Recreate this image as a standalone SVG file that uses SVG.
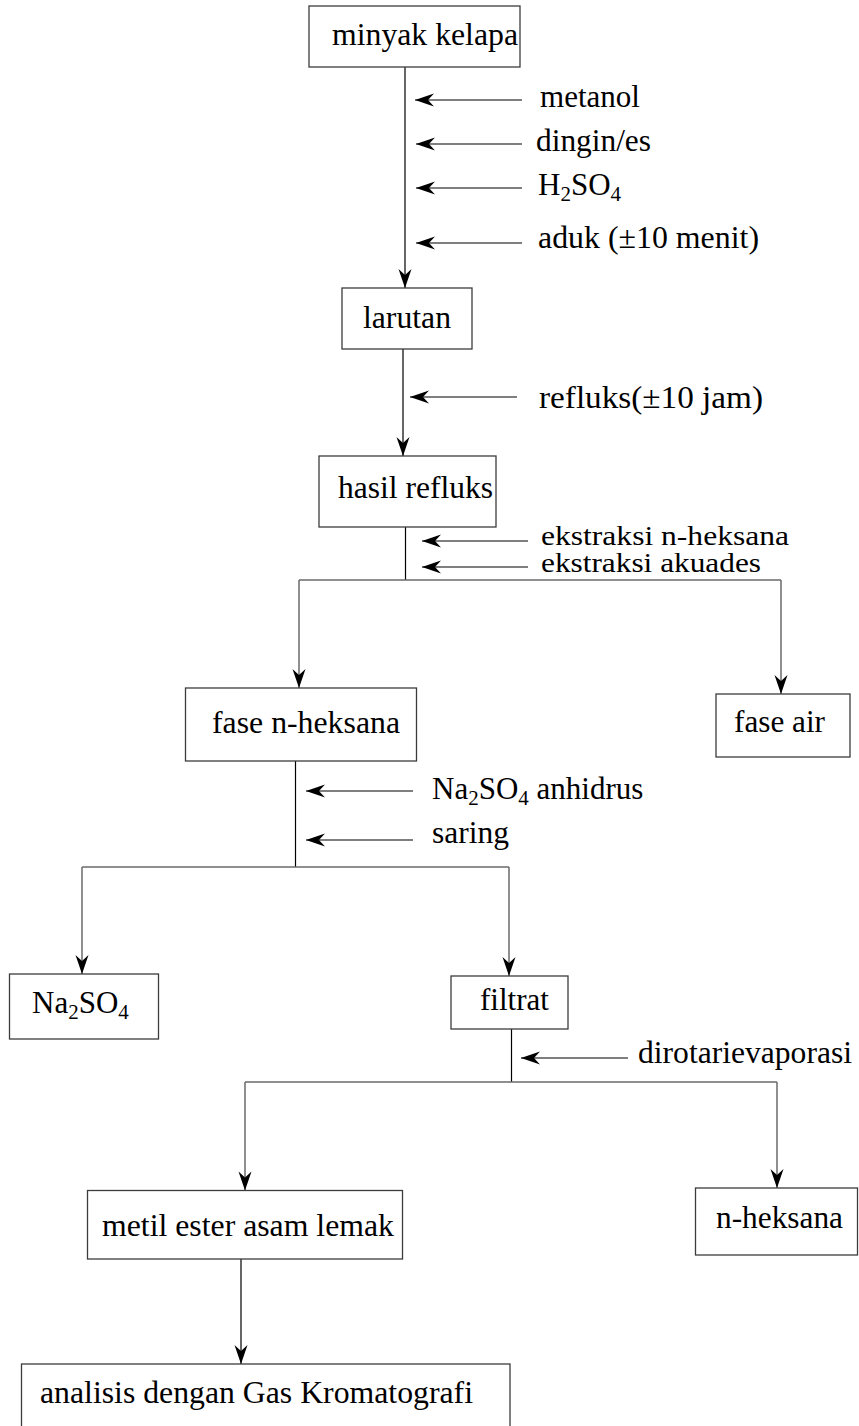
<svg xmlns="http://www.w3.org/2000/svg" width="859" height="1426" viewBox="0 0 859 1426">
  <defs>
    <style>
      .box { fill: #fff; stroke: #3c3c3c; stroke-width: 1.3; }
      .lbl { font-family: "Liberation Serif", "Times New Roman", serif; font-size: 31px; fill: #000; }
      .tight { font-size: 27px; }
      .sub { font-size: 21px; }
      .flow { fill: none; stroke: #000; stroke-width: 1.2; }
      .branch { fill: none; stroke: #6a6a6a; stroke-width: 1.5; }
      .feed { fill: none; stroke: #000; stroke-width: 1.2; marker-end: url(#head); }
      .down { marker-end: url(#head); }
    </style>
    <marker id="head" markerUnits="userSpaceOnUse" markerWidth="22" markerHeight="16" viewBox="-20 -8 22 16" refX="0" refY="0" orient="auto">
      <path d="M0,0 L-19,-6.5 L-13,0 L-19,6.5 Z" fill="#000"/>
    </marker>
  </defs>

  <!-- connectors -->
  <g id="connectors">
    <!-- minyak kelapa -> larutan -->
    <path class="flow down" d="M405,67 V288"/>
    <path class="feed" d="M522,100 H415"/>
    <path class="feed" d="M522,144 H416"/>
    <path class="feed" d="M522,188 H416"/>
    <path class="feed" d="M522,243 H416"/>
    <!-- larutan -> hasil refluks -->
    <path class="flow down" d="M403,349 V456"/>
    <path class="feed" d="M517,397 H410"/>
    <!-- hasil refluks -> split -->
    <path class="flow" d="M405.5,527 V580"/>
    <path class="feed" d="M528,541 H422"/>
    <path class="feed" d="M528,567 H422"/>
    <path class="branch" d="M299,580 H781"/>
    <path class="branch down" d="M299,580 V688"/>
    <path class="branch down" d="M781,580 V694"/>
    <!-- fase n-heksana -> split -->
    <path class="flow" d="M295.5,761 V867"/>
    <path class="feed" d="M413,791 H306"/>
    <path class="feed" d="M413,840 H306"/>
    <path class="branch" d="M82,867 H509"/>
    <path class="branch down" d="M82,867 V974"/>
    <path class="branch down" d="M509,867 V976"/>
    <!-- filtrat -> split -->
    <path class="flow" d="M511.5,1029 V1082"/>
    <path class="feed" d="M628,1058 H521"/>
    <path class="branch" d="M245,1082 H777"/>
    <path class="branch down" d="M245,1082 V1190.5"/>
    <path class="branch down" d="M777,1082 V1188"/>
    <!-- metil ester -> analisis -->
    <path class="flow down" d="M241,1259 V1364"/>
  </g>

  <!-- side inputs -->
  <g id="inputs">
    <text class="lbl" x="540" y="107" textLength="100" lengthAdjust="spacingAndGlyphs">metanol</text>
    <text class="lbl" x="536" y="151" textLength="115" lengthAdjust="spacingAndGlyphs">dingin/es</text>
    <text class="lbl" x="538" y="195">H<tspan class="sub" dy="6">2</tspan><tspan dy="-6">SO</tspan><tspan class="sub" dy="6">4</tspan></text>
    <text class="lbl" x="538" y="248" textLength="221" lengthAdjust="spacingAndGlyphs">aduk (±10 menit)</text>
    <text class="lbl" x="539" y="408" textLength="224" lengthAdjust="spacingAndGlyphs">refluks(±10 jam)</text>
    <text class="lbl tight" x="541" y="545" textLength="248" lengthAdjust="spacingAndGlyphs">ekstraksi n-heksana</text>
    <text class="lbl tight" x="541" y="572" textLength="220" lengthAdjust="spacingAndGlyphs">ekstraksi akuades</text>
    <text class="lbl" x="432" y="799">Na<tspan class="sub" dy="6">2</tspan><tspan dy="-6">SO</tspan><tspan class="sub" dy="6">4</tspan><tspan dy="-6"> anhidrus</tspan></text>
    <text class="lbl" x="432" y="843" textLength="77" lengthAdjust="spacingAndGlyphs">saring</text>
    <text class="lbl" x="638" y="1063" textLength="214" lengthAdjust="spacingAndGlyphs">dirotarievaporasi</text>
  </g>

  <g id="minyak-kelapa">
    <rect class="box" x="309" y="6" width="211" height="61"/>
    <text class="lbl" x="332" y="45" textLength="186" lengthAdjust="spacingAndGlyphs">minyak kelapa</text>
  </g>
  <g id="larutan">
    <rect class="box" x="342" y="288" width="130" height="61"/>
    <text class="lbl" x="363" y="328" textLength="88" lengthAdjust="spacingAndGlyphs">larutan</text>
  </g>
  <g id="hasil-refluks">
    <rect class="box" x="319" y="456" width="177" height="71"/>
    <text class="lbl" x="338" y="498" textLength="155" lengthAdjust="spacingAndGlyphs">hasil refluks</text>
  </g>
  <g id="fase-n-heksana">
    <rect class="box" x="185.5" y="688" width="231" height="73"/>
    <text class="lbl" x="212" y="733" textLength="188" lengthAdjust="spacingAndGlyphs">fase n-heksana</text>
  </g>
  <g id="fase-air">
    <rect class="box" x="716" y="694" width="134" height="63"/>
    <text class="lbl" x="734" y="732" textLength="91" lengthAdjust="spacingAndGlyphs">fase air</text>
  </g>
  <g id="na2so4">
    <rect class="box" x="9.5" y="974" width="149" height="65"/>
    <text class="lbl" x="32" y="1013">Na<tspan class="sub" dy="6">2</tspan><tspan dy="-6">SO</tspan><tspan class="sub" dy="6">4</tspan></text>
  </g>
  <g id="filtrat">
    <rect class="box" x="451" y="976" width="117" height="53"/>
    <text class="lbl" x="480" y="1010" textLength="69" lengthAdjust="spacingAndGlyphs">filtrat</text>
  </g>
  <g id="metil-ester">
    <rect class="box" x="87.5" y="1190.5" width="315" height="68.5"/>
    <text class="lbl" x="102" y="1236" textLength="292" lengthAdjust="spacingAndGlyphs">metil ester asam lemak</text>
  </g>
  <g id="n-heksana">
    <rect class="box" x="695.5" y="1188" width="162" height="67"/>
    <text class="lbl" x="716" y="1228" textLength="127" lengthAdjust="spacingAndGlyphs">n-heksana</text>
  </g>
  <g id="analisis-gc">
    <rect class="box" x="21.5" y="1364" width="488.5" height="90"/>
    <text class="lbl" x="40" y="1403" textLength="433" lengthAdjust="spacingAndGlyphs">analisis dengan Gas Kromatografi</text>
  </g>
</svg>
